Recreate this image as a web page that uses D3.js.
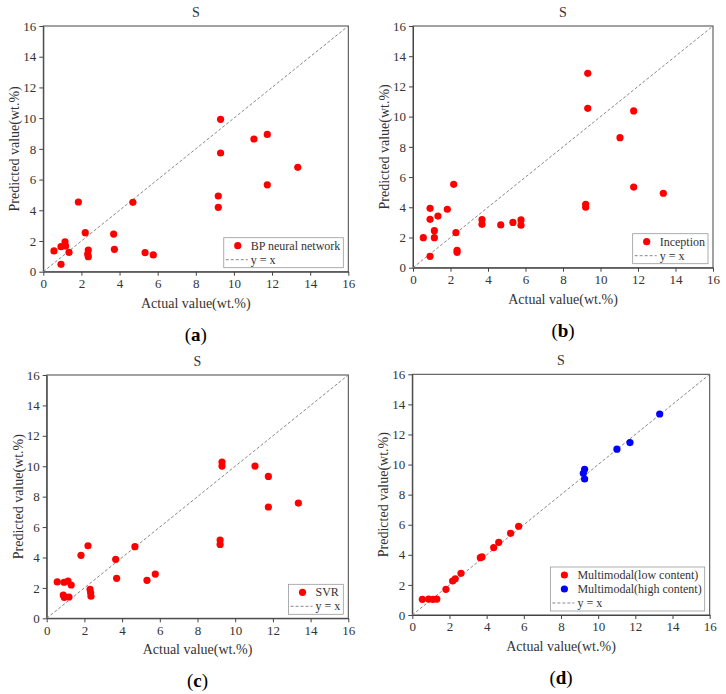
<!DOCTYPE html>
<html>
<head>
<meta charset="utf-8">
<script src="https://cdn.jsdelivr.net/npm/d3@7"></script>
<style>
  body { margin: 0; background: #fff; }
  svg { display: block; font-family: "Liberation Serif", "Times New Roman", serif; }
  .axis path, .axis line { stroke: #444; }
  .axis text { font-size: 13px; fill: #333; font-family: "Liberation Serif", serif; }
</style>
</head>
<body>
<svg width="726" height="694"></svg>
<script>
// shared axis ticks (wt.%)
var ticks = [0, 2, 4, 6, 8, 10, 12, 14, 16];

// (a) BP neural network
var bpActual = [0.56, 0.93, 0.93, 1.14, 1.17, 1.35, 1.84, 2.2, 2.36, 2.33, 2.36, 3.69, 3.73, 4.7, 5.34, 5.77, 9.18, 9.18, 9.3, 9.3, 11.05, 11.75, 11.75, 13.35];
var bpPred   = [1.35, 0.48, 1.63, 1.95, 1.67, 1.26, 4.54, 2.54, 1.41, 1.15, 0.98, 2.45, 1.46, 4.52, 1.24, 1.09, 4.93, 4.19, 9.92, 7.73, 8.64, 8.94, 5.66, 6.8];

// (b) Inception
var incActual = [0.55, 0.91, 0.91, 0.91, 1.14, 1.14, 1.33, 1.83, 2.17, 2.29, 2.35, 2.35, 3.68, 3.68, 4.68, 5.33, 5.76, 5.76, 9.32, 9.32, 9.21, 9.21, 11.04, 11.77, 11.77, 13.35];
var incPred   = [1.99, 0.75, 3.93, 3.2, 2.45, 1.99, 3.42, 3.87, 5.52, 2.32, 1.15, 1.02, 3.18, 2.87, 2.83, 3.0, 3.16, 2.81, 12.87, 10.55, 4.2, 4.0, 8.61, 10.38, 5.34, 4.93];

// (c) SVR
var svrActual = [0.56, 0.92, 1.13, 1.3, 0.88, 0.93, 1.18, 1.82, 2.19, 2.3, 2.33, 2.35, 3.66, 3.71, 4.68, 5.32, 5.76, 9.3, 9.3, 9.2, 9.2, 11.05, 11.76, 11.76, 13.35];
var svrPred   = [2.39, 2.37, 2.45, 2.19, 1.53, 1.38, 1.4, 4.14, 4.77, 1.9, 1.68, 1.45, 3.88, 2.63, 4.71, 2.5, 2.91, 10.28, 10.01, 5.15, 4.86, 10.01, 9.33, 7.32, 7.58];

// (d) Multimodal, low and high content
var lowActual = [0.54, 0.88, 1.11, 1.32, 1.81, 2.17, 2.31, 2.62, 3.66, 3.75, 4.38, 4.65, 5.29, 5.72];
var lowPred   = [1.04, 1.06, 1.04, 1.06, 1.71, 2.26, 2.41, 2.77, 3.81, 3.86, 4.48, 4.83, 5.43, 5.9];
var highActual = [9.2, 9.27, 9.27, 11.01, 11.71, 13.31];
var highPred   = [9.42, 9.69, 9.04, 11.02, 11.46, 13.36];

var panels = [
  {label: "a", box: [43.3, 348.3, 26, 271.7], series: [{name: "BP neural network", x: bpActual, y: bpPred, color: "#ff0000"}]},
  {label: "b", box: [413, 713, 26, 267.7], series: [{name: "Inception", x: incActual, y: incPred, color: "#ff0000"}]},
  {label: "c", box: [46.7, 348.3, 375, 618.3], series: [{name: "SVR", x: svrActual, y: svrPred, color: "#ff0000"}]},
  {label: "d", box: [412.3, 709.7, 374.3, 615], series: [
    {name: "Multimodal(low content)", x: lowActual, y: lowPred, color: "#ff0000"},
    {name: "Multimodal(high content)", x: highActual, y: highPred, color: "#0000ff"}]}
];

var svg = d3.select("svg");

panels.forEach(function(p) {
  var left = p.box[0], right = p.box[1], top = p.box[2], bottom = p.box[3];
  var x = d3.scaleLinear().domain([0, 16]).range([left, right]),
      y = d3.scaleLinear().domain([0, 16]).range([bottom, top]);

  var g = svg.append("g");

  g.append("g").attr("class", "axis")
      .attr("transform", "translate(0," + bottom + ")")
      .call(d3.axisBottom(x).tickValues(ticks).tickSize(4).tickSizeOuter(0).tickPadding(3));
  g.append("g").attr("class", "axis")
      .attr("transform", "translate(" + left + ",0)")
      .call(d3.axisLeft(y).tickValues(ticks).tickSize(4).tickSizeOuter(0).tickPadding(3));

  // frame
  g.append("rect")
      .attr("x", left).attr("y", top)
      .attr("width", right - left).attr("height", bottom - top)
      .attr("fill", "none").attr("stroke", "#444").attr("stroke-width", 1);

  // y = x reference
  g.append("line")
      .attr("x1", x(0)).attr("y1", y(0)).attr("x2", x(16)).attr("y2", y(16))
      .attr("stroke", "#888").attr("stroke-width", 1).attr("stroke-dasharray", "3,2");

  p.series.forEach(function(s) {
    g.selectAll(null)
      .data(s.x.map(function(v, i) { return [v, s.y[i]]; }))
      .enter().append("circle")
        .attr("cx", function(d) { return x(d[0]); })
        .attr("cy", function(d) { return y(d[1]); })
        .attr("r", 3.6)
        .attr("fill", s.color);
  });

  var cx = (left + right) / 2;
  g.append("text").attr("x", cx).attr("y", top - 9)
      .attr("text-anchor", "middle").attr("font-size", 14).attr("fill", "#333").text("S");
  g.append("text").attr("x", cx).attr("y", bottom + 36)
      .attr("text-anchor", "middle").attr("font-size", 14).attr("fill", "#333").text("Actual value(wt.%)");
  g.append("text")
      .attr("transform", "translate(" + (left - 29) + "," + ((top + bottom) / 2) + ") rotate(-90)")
      .attr("text-anchor", "middle").attr("dy", "0.35em").attr("font-size", 14).attr("fill", "#333")
      .text("Predicted value(wt.%)");

  var sub = g.append("text").attr("x", cx).attr("y", bottom + 69)
      .attr("text-anchor", "middle").attr("font-size", 19).attr("fill", "#000");
  sub.append("tspan").text("(");
  sub.append("tspan").attr("font-weight", "bold").text(p.label);
  sub.append("tspan").text(")");

  // legend
  var entries = p.series.map(function(s) { return {name: s.name, color: s.color, dot: true}; })
      .concat([{name: "y = x", dot: false}]);
  var rowH = 14;
  var lg = g.append("g");
  var frame = lg.append("rect").attr("fill", "#fff").attr("stroke", "#999").attr("stroke-width", 0.8);
  var texts = [];
  entries.forEach(function(e, i) {
    var ry = 8 + i * rowH;
    if (e.dot) {
      lg.append("circle").attr("cx", 14).attr("cy", ry).attr("r", 3.6).attr("fill", e.color);
    } else {
      lg.append("line").attr("x1", 2).attr("x2", 24).attr("y1", ry).attr("y2", ry)
        .attr("stroke", "#888").attr("stroke-dasharray", "3,2");
    }
    texts.push(lg.append("text").attr("x", 27).attr("y", ry).attr("dy", "0.35em")
      .attr("font-size", 12).attr("fill", "#333").text(e.name));
  });
  var w = d3.max(texts, function(t) { return t.node().getComputedTextLength(); }) + 30;
  var h = entries.length * rowH + 2;
  frame.attr("width", w).attr("height", h);
  lg.attr("transform", "translate(" + (right - 5 - w) + "," + (bottom - 4 - h) + ")");
});
</script>
</body>
</html>
